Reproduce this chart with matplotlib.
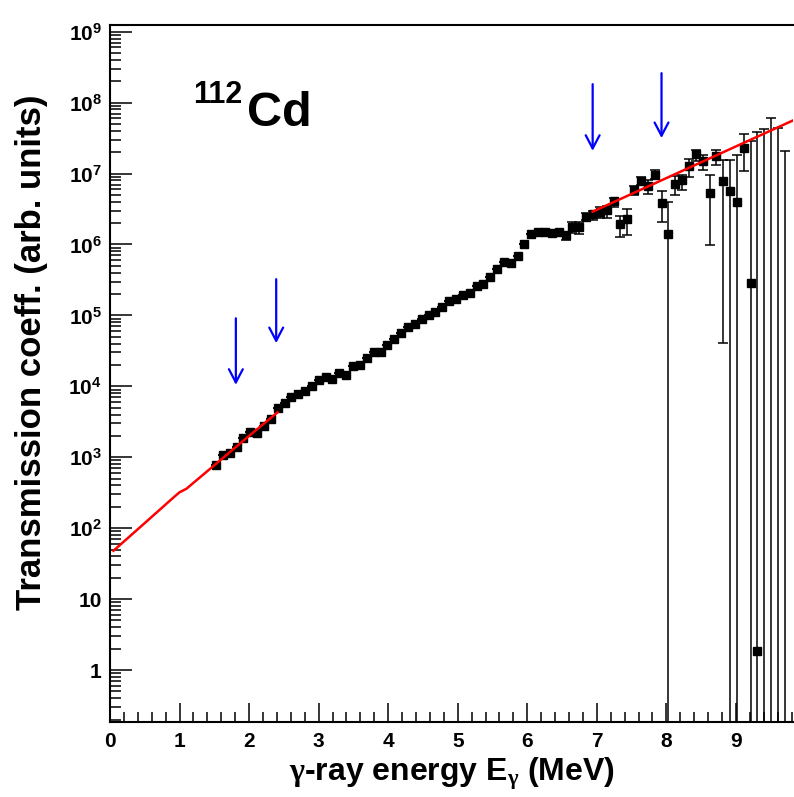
import numpy as np
import matplotlib
matplotlib.use('Agg')
import matplotlib.pyplot as plt
from matplotlib.ticker import FixedLocator, LogLocator, MultipleLocator, NullFormatter

plt.rcParams['font.family'] = ['Liberation Sans', 'DejaVu Sans']
plt.rcParams['font.weight'] = 'bold'
plt.rcParams['mathtext.fontset'] = 'custom'
plt.rcParams['mathtext.rm'] = 'Liberation Sans:bold'
plt.rcParams['mathtext.bf'] = 'Liberation Sans:bold'
plt.rcParams['mathtext.it'] = 'Liberation Serif'

# gamma energy (MeV) and transmission coefficient
e_pts = [1.52, 1.63, 1.72, 1.82, 1.91, 2.02, 2.11, 2.21, 2.31, 2.41,
         2.52, 2.61, 2.71, 2.81, 2.91, 3.00, 3.10, 3.19, 3.30, 3.40,
         3.50, 3.60, 3.69, 3.80, 3.90, 3.99, 4.09, 4.18, 4.28, 4.39,
         4.49, 4.58, 4.68, 4.77, 4.88, 4.97, 5.08, 5.17, 5.27, 5.37,
         5.47, 5.56, 5.66, 5.76, 5.86, 5.96, 6.06, 6.16, 6.26, 6.36,
         6.46, 6.55, 6.65, 6.74, 6.85, 6.94, 7.04, 7.14, 7.24, 7.34,
         7.44, 7.54, 7.64, 7.73, 7.83, 7.93, 8.03, 8.13, 8.23, 8.32,
         8.43, 8.52, 8.62, 8.72, 8.82, 8.92, 9.02, 9.12, 9.22, 9.31,
         9.41, 9.51, 9.61, 9.71]
t_pts = [780, 1070, 1150, 1410, 1860, 2290, 2180, 2770, 3450, 4900,
         5900, 7000, 7800, 8500, 10200, 12300, 13400, 12600, 15200, 14500,
         19500, 19800, 24700, 30000, 30300, 38400, 46000, 57000, 68000, 75000,
         89000, 1.02e5, 1.13e5, 1.33e5, 1.61e5, 1.69e5, 1.95e5, 2.05e5, 2.56e5, 2.77e5,
         3.46e5, 4.54e5, 5.66e5, 5.40e5, 6.80e5, 1.0e6, 1.42e6, 1.50e6, 1.49e6, 1.47e6,
         1.49e6, 1.37e6, 1.75e6, 1.78e6, 2.46e6, 2.70e6, 2.90e6, 3.10e6, 4.05e6, 1.95e6,
         2.30e6, 5.9e6, 7.9e6, 6.6e6, 9.5e6, 3.8e6, 1.41e6, 7.1e6, 8.1e6, 1.26e7,
         1.87e7, 1.50e7, 5.3e6, 1.78e7, 7.9e6, 5.7e6, 4.0e6, 2.3e7, 2.9e5, 1.87,
         0.05, 0.05, 0.05, 0.05]
t_lo = [780, 1070, 1150, 1410, 1860, 2290, 2180, 2770, 3450, 4900,
        5900, 7000, 7800, 8500, 10200, 12300, 13400, 12600, 15200, 14500,
        19500, 19800, 24700, 30000, 30300, 38400, 46000, 57000, 68000, 75000,
        89000, 1.02e5, 1.13e5, 1.33e5, 1.61e5, 1.69e5, 1.95e5, 2.05e5, 2.56e5, 2.77e5,
        3.46e5, 4.54e5, 5.66e5, 5.40e5, 6.80e5, 1.0e6, 1.42e6, 1.50e6, 1.49e6, 1.47e6,
        1.49e6, 1.16e6, 1.44e6, 1.39e6, 2.2e6, 2.2e6, 2.34e6, 2.34e6, 3.4e6, 1.29e6,
        1.38e6, 5.0e6, 7.0e6, 5.1e6, 8.5e6, 2.1e6, 0.01, 4.9e6, 5.9e6, 8.9e6,
        1.51e7, 1.12e7, 9.8e5, 1.32e7, 4.1e4, 0.01, 0.01, 1.07e7, 0.01, 0.01,
        0.05, 0.05, 0.05, 0.05]
t_hi = [780, 1070, 1150, 1410, 1860, 2290, 2180, 2770, 3450, 4900,
        5900, 7000, 7800, 8500, 10200, 12300, 13400, 12600, 15200, 14500,
        19500, 19800, 24700, 30000, 30300, 38400, 46000, 57000, 68000, 75000,
        89000, 1.02e5, 1.13e5, 1.33e5, 1.61e5, 1.69e5, 1.95e5, 2.05e5, 2.56e5, 2.77e5,
        3.46e5, 4.54e5, 5.66e5, 5.40e5, 6.80e5, 1.0e6, 1.42e6, 1.50e6, 1.49e6, 1.47e6,
        1.49e6, 1.37e6, 2.04e6, 2.1e6, 2.8e6, 2.95e6, 3.4e6, 3.5e6, 4.5e6, 2.5e6,
        3.2e6, 6.6e6, 8.8e6, 8.1e6, 1.12e7, 5.6e6, 4.0e6, 9.3e6, 9.5e6, 1.58e7,
        2.14e7, 1.82e7, 9.6e6, 2.14e7, 1.55e7, 1.55e7, 1.82e7, 3.6e7, 2.9e7, 3.9e7,
        4.2e7, 6.0e7, 4.4e7, 2.1e7]

# fitted extrapolations (red)
fit_lo_e = [0.05, 0.5, 0.93, 1.0, 1.1, 1.5, 2.0, 2.41]
fit_lo_t = [48, 118, 280, 320, 360, 770, 2000, 4300]
fit_hi_e = [6.94, 9.82]
fit_hi_t = [2.9e6, 5.6e7]

# blue arrows: energy, top and tip
arr_e = [1.81, 2.39, 6.94, 7.93]
arr_top = [9.1e4, 3.24e5, 1.82e8, 2.6e8]
arr_tip = [1.05e4, 4.06e4, 2.09e7, 3.16e7]

fig = plt.figure(figsize=(7.94, 7.97), dpi=100)
ax = fig.add_axes([0.1385, 0.0941, 0.8602, 0.8751])

y = np.array(t_pts)
yerr = [y - np.array(t_lo), np.array(t_hi) - y]
ax.errorbar(e_pts, y, yerr=yerr, fmt='s', color='black', ms=6,
            capsize=3.5, elinewidth=1.1, capthick=1.1, zorder=2)

ax.plot(fit_lo_e, fit_lo_t, color='red', lw=1.8, zorder=3)
ax.plot(fit_hi_e, fit_hi_t, color='red', lw=1.8, zorder=3)

for xe, top, tip in zip(arr_e, arr_top, arr_tip):
    ax.annotate('', xy=(xe, tip), xytext=(xe, top),
                arrowprops=dict(arrowstyle='->,head_length=0.95,head_width=0.5',
                                color='blue', lw=1.6, shrinkA=0, shrinkB=0,
                                mutation_scale=10))

ax.set_yscale('log')
ax.set_xlim(0, 9.82)
ax.set_ylim(0.185, 1.26e9)

ax.yaxis.set_major_locator(FixedLocator(10.0 ** np.arange(0, 10)))
ax.set_yticklabels(['1', '10'] + [r'$\mathrm{10^{%d}}$' % k for k in range(2, 10)])
ax.yaxis.set_minor_locator(LogLocator(base=10, subs=np.arange(2, 10), numticks=50))
ax.yaxis.set_minor_formatter(NullFormatter())
ax.xaxis.set_major_locator(MultipleLocator(1))
ax.xaxis.set_minor_locator(MultipleLocator(0.2))

ax.tick_params(axis='both', which='both', direction='in', top=False, right=False,
               labelsize=15, width=1.1)
ax.tick_params(axis='y', which='major', length=16, pad=6)
ax.tick_params(axis='y', which='minor', length=8)
ax.tick_params(axis='x', which='major', length=14, pad=7)
ax.tick_params(axis='x', which='minor', length=7)
for lab in ax.get_xticklabels() + ax.get_yticklabels():
    lab.set_fontweight('bold')

ax.spines['right'].set_visible(False)
for s in ['left', 'bottom', 'top']:
    ax.spines[s].set_linewidth(1.5)

fig.text(32 / 794, 1 - 352 / 797, 'Transmission coeff. (arb. units)', rotation=90,
         ha='center', va='center', fontsize=25, fontweight='bold')
fig.text(452 / 794, 1 - 780 / 797, r'$\gamma$-ray energy E$_{\gamma}$ (MeV)',
         ha='center', va='baseline', fontsize=23, fontweight='bold')

fig.text(193 / 794, 1 - 103.3 / 797, '112', ha='left', va='baseline',
         fontsize=22, fontweight='bold')
fig.text(247 / 794, 1 - 126 / 797, 'Cd', ha='left', va='baseline',
         fontsize=35, fontweight='bold')

fig.savefig('out.png', dpi=100, facecolor='white')
